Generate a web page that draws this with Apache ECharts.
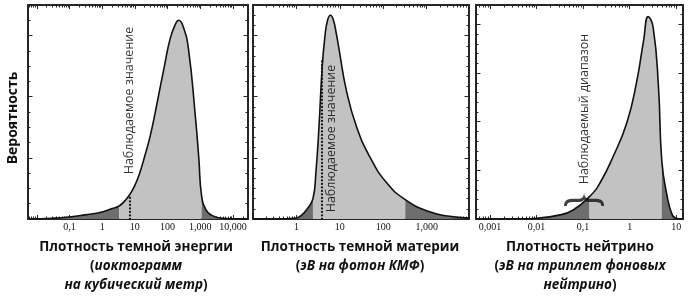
<!DOCTYPE html>
<html>
<head>
<meta charset="utf-8">
<script src="https://cdn.jsdelivr.net/npm/echarts@6/dist/echarts.min.js"></script>
<style>
  html, body { margin: 0; padding: 0; background: #fff; }
  #chart { width: 692px; height: 300px; }
</style>
</head>
<body>
<div id="chart"></div>
<script>
// dark energy density (yoctogram / m^3)
var energyX = [0.006, 0.03, 0.1, 0.3, 1, 2, 3.3, 5, 7, 10, 14, 20, 30, 50, 80, 120, 170, 220, 300, 437, 708, 900, 1100, 1500, 2200, 3600, 8000, 28000];
var energyY = [0.01, 0.05, 0.13, 0.27, 0.46, 0.68, 0.85, 1.2, 1.6, 2.2, 3.0, 4.1, 5.5, 7.8, 10.0, 11.8, 12.7, 13.0, 12.6, 11.1, 6.7, 4.0, 1.5, 0.6, 0.25, 0.08, 0.02, 0];
var energyCuts = [3.3, 1100];
var energyObserved = [7, 1.6];
var energyTicks = [0.1, 1, 10, 100, 1000, 10000];
var energyTickLabels = ['0,1', '1', '10', '100', '1,000', '10,000'];

// dark matter density (eV per CMB photon)
var matterX = [0.1, 0.5, 1, 1.3, 1.7, 2.4, 2.8, 3.3, 3.9, 4.5, 5.2, 6.1, 7.0, 8.2, 9.8, 14, 24, 49, 117, 320, 1170, 3000, 9300];
var matterY = [0, 0.02, 0.1, 0.35, 0.9, 2.0, 4.5, 9.0, 14.8, 17.8, 19.5, 20.0, 19.6, 18.3, 16.4, 12.7, 9.1, 6.1, 3.6, 1.9, 0.7, 0.3, 0.1];
var matterCuts = [2.4, 320];
var matterObserved = [3.9, 15.5];
var matterTicks = [1, 10, 100, 1000];
var matterTickLabels = ['1', '10', '100', '1,000'];

// neutrino density (eV per triplet of background neutrinos)
var neutrinoX = [0.0005, 0.005, 0.01, 0.03, 0.06, 0.137, 0.23, 0.44, 0.87, 1.4, 2.0, 2.5, 3.2, 4.17, 4.9, 6.3, 8.1, 10, 14];
var neutrinoY = [0, 0.02, 0.08, 0.4, 0.9, 2.3, 3.7, 6.4, 9.9, 14, 18.4, 20.8, 19.7, 13.5, 6.0, 2.5, 0.5, 0.05, 0];
var neutrinoCuts = [0.137, 4.9];
var neutrinoRange = [0.105, 2.0];
var neutrinoTicks = [0.001, 0.01, 0.1, 1, 10];
var neutrinoTickLabels = ['0,001', '0,01', '0,1', '1', '10'];

var LIGHT = '#c2c2c2', DARK = '#6e6e6e', INK = '#111', FRAME = '#262626';
var BRACE = 'path://M0,16 C0,9 4,7 12,7 L19,7 C23,7 24.5,4 25,0 C25.5,4 27,7 31,7 L38,7 C46,7 50,9 50,16 L46.5,16 C46.5,12 43.5,11 38,11 L31,11 C27.5,11 26,10 25,8 C24,10 22.5,11 19,11 L12,11 C6.5,11 3.5,12 3.5,16 Z';

var panels = [
  { xs: energyX, ys: energyY, cuts: energyCuts, ticks: energyTicks, labels: energyTickLabels,
    xMin: 0.0054, xMax: 28800, yMax: 14, yMajor: 4,
    grid: { left: 28, top: 5, width: 220, height: 214 } },
  { xs: matterX, ys: matterY, cuts: matterCuts, ticks: matterTicks, labels: matterTickLabels,
    xMin: 0.1, xMax: 9400, yMax: 21, yMajor: 6,
    grid: { left: 253, top: 5, width: 216, height: 214 } },
  { xs: neutrinoX, ys: neutrinoY, cuts: neutrinoCuts, ticks: neutrinoTicks, labels: neutrinoTickLabels,
    xMin: 0.0005, xMax: 14, yMax: 22, yMajor: 5,
    grid: { left: 476, top: 5, width: 207, height: 214 } }
];

function decades(lo, hi) {
  var out = [];
  for (var e = Math.floor(Math.log10(lo)); e <= Math.ceil(Math.log10(hi)); e++) {
    var v = Math.pow(10, e);
    if (v > lo && v < hi) out.push(v);
  }
  return out;
}
function minors(lo, hi) {
  var out = [];
  for (var e = Math.floor(Math.log10(lo)); e <= Math.ceil(Math.log10(hi)); e++) {
    for (var m = 2; m <= 9; m++) {
      var v = m * Math.pow(10, e);
      if (v > lo && v < hi) out.push(v);
    }
  }
  return out;
}

var lineFrame = { show: true, onZero: false, lineStyle: { color: FRAME, width: 2 } };
var tickStyle = { color: FRAME, width: 1 };
var SMOOTH = 0.5;

var grids = [], xAxes = [], yAxes = [], series = [];

panels.forEach(function (p, g) {
  grids.push(Object.assign({ outerBoundsMode: 'none' }, p.grid));
  var labels = p.labels, ticks = p.ticks;
  var decs = decades(p.xMin, p.xMax), mins = minors(p.xMin, p.xMax);
  ['bottom', 'top'].forEach(function (pos) {
    xAxes.push({
      gridIndex: g, type: 'log', logBase: 10, min: p.xMin, max: p.xMax, position: pos,
      axisLine: lineFrame,
      axisTick: { show: true, inside: true, length: 4, customValues: decs, lineStyle: tickStyle },
      axisLabel: {
        show: pos === 'bottom', customValues: ticks, margin: 3,
        fontFamily: 'Liberation Serif', fontSize: 10, color: '#111',
        formatter: function (v, i) {
          for (var k = 0; k < ticks.length; k++) {
            if (Math.abs(Math.log10(v) - Math.log10(ticks[k])) < 0.01) return labels[k];
          }
          return labels[i] || '';
        }
      },
      splitLine: { show: false }
    });
    xAxes.push({
      gridIndex: g, type: 'log', logBase: 10, min: p.xMin, max: p.xMax, position: pos,
      axisLine: { show: false, onZero: false },
      axisTick: { show: true, inside: true, length: 2.5, customValues: mins, lineStyle: tickStyle },
      axisLabel: { show: false },
      splitLine: { show: false }
    });
  });
  var yMaj = [], yMin = [];
  for (var v = 1; v < p.yMax; v++) {
    if (v % p.yMajor === 0) yMaj.push(v); else yMin.push(v);
  }
  ['left', 'right'].forEach(function (pos) {
    var major = {
      gridIndex: g, type: 'value', min: 0, max: p.yMax, position: pos,
      axisLine: lineFrame,
      axisTick: { show: true, inside: true, length: 4.5, customValues: yMaj, lineStyle: tickStyle },
      axisLabel: { show: false },
      splitLine: { show: false }
    };
    if (g === 0 && pos === 'left') {
      major.name = 'Вероятность';
      major.nameLocation = 'middle';
      major.nameRotate = 90;
      major.nameGap = 8;
      major.nameTextStyle = { fontFamily: 'Open Sans', fontWeight: 'bold', fontSize: 14, color: '#111', padding: [0, 12, 0, 0] };
    }
    yAxes.push(major);
    yAxes.push({
      gridIndex: g, type: 'value', min: 0, max: p.yMax, position: pos,
      axisLine: { show: false, onZero: false },
      axisTick: { show: true, inside: true, length: 2.5, customValues: yMin, lineStyle: tickStyle },
      axisLabel: { show: false },
      splitLine: { show: false }
    });
  });

  var all = p.xs.map(function (x, i) { return [x, p.ys[i]]; });
  var lo = p.cuts[0], hi = p.cuts[1];
  var parts = [
    [all.filter(function (d) { return d[0] <= lo; }), DARK],
    [all.filter(function (d) { return d[0] >= lo && d[0] <= hi; }), LIGHT],
    [all.filter(function (d) { return d[0] >= hi; }), DARK]
  ];
  var xi = g * 4, yi = g * 4;
  parts.forEach(function (part) {
    series.push({
      type: 'line', xAxisIndex: xi, yAxisIndex: yi, data: part[0],
      smooth: SMOOTH, symbol: 'none', silent: true,
      lineStyle: { width: 0 }, areaStyle: { color: part[1], opacity: 1 }, z: 2
    });
  });
  series.push({
    type: 'line', xAxisIndex: xi, yAxisIndex: yi, data: all,
    smooth: SMOOTH, symbol: 'none', silent: true,
    lineStyle: { color: INK, width: 1.6 }, z: 3
  });
});

// observed values: dotted lines and rotated captions
function dotted(gi, pt) {
  return {
    type: 'line', xAxisIndex: gi * 4, yAxisIndex: gi * 4, data: [], silent: true, z: 4,
    markLine: {
      symbol: 'none', silent: true, label: { show: false },
      lineStyle: { type: [0.1, 3.4], color: INK, width: 2.2, cap: 'round' },
      data: [[{ coord: [pt[0], 0] }, { coord: [pt[0], pt[1]] }]]
    }
  };
}
function caption(gi, pt, text) {
  return {
    type: 'scatter', xAxisIndex: gi * 4, yAxisIndex: gi * 4, data: [pt], symbolSize: 0, silent: true, z: 5,
    label: {
      show: true, position: 'inside', rotate: 90, formatter: text,
      fontFamily: 'Open Sans', fontSize: 12.5, color: '#000'
    }
  };
}
series.push(dotted(0, energyObserved));
series.push(dotted(1, matterObserved));
series.push(caption(0, [6.9, 7.75], 'Наблюдаемое значение'));
series.push(caption(1, [6.4, 7.9], 'Наблюдаемое значение'));
series.push(caption(2, [0.105, 11.3], 'Наблюдаемый диапазон'));
series.push({
  type: 'scatter', xAxisIndex: 8, yAxisIndex: 8, data: [neutrinoRange], silent: true, z: 6,
  symbol: BRACE, symbolSize: [40, 13], symbolKeepAspect: false, itemStyle: { color: INK }
});

var rich = {
  b: { fontFamily: 'Open Sans', fontWeight: 'bold', fontSize: 13.5, lineHeight: 19, color: '#111' },
  i: { fontFamily: 'Open Sans', fontWeight: 'bold', fontStyle: 'italic', fontSize: 13.5, lineHeight: 19, color: '#111' }
};
function title(text, x) {
  return { text: text, left: x, top: 238, padding: 0, textAlign: 'center', textStyle: { rich: rich } };
}

var option = {
  animation: false,
  backgroundColor: '#fff',
  title: [
    title('{b|Плотность темной энергии}\n{b|(}{i|иоктограмм}\n{i|на кубический метр}{b|)}', 136),
    title('{b|Плотность темной материи}\n{b|(}{i|эВ на фотон КМФ}{b|)}', 360),
    title('{b|Плотность нейтрино}\n{b|(}{i|эВ на триплет фоновых}\n{i|нейтрино}{b|)}', 580)
  ],
  grid: grids,
  xAxis: xAxes,
  yAxis: yAxes,
  series: series
};

var chart = echarts.init(document.getElementById('chart'));
chart.setOption(option);
</script>
</body>
</html>
